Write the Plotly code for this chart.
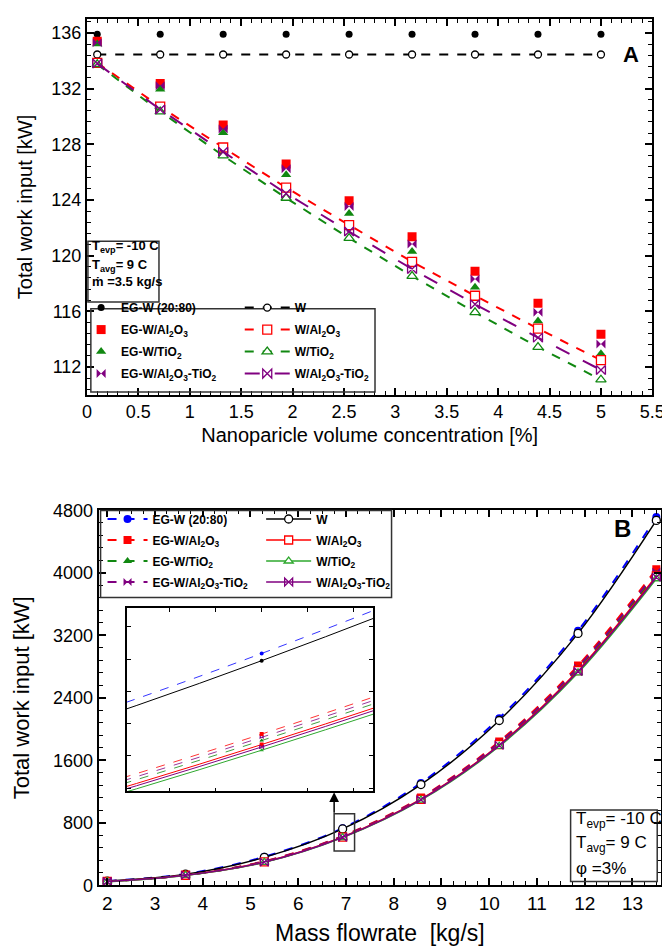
import plotly.graph_objects as go

# ---- panel A : work input vs nanoparticle volume concentration ----
conc = [0.1, 0.7125, 1.325, 1.9375, 2.55, 3.1625, 3.775, 4.3875, 5.0]
a_egw = [135.9, 135.9, 135.9, 135.9, 135.9, 135.9, 135.9, 135.9, 135.9]
a_eg_al = [135.4, 132.37, 129.38, 126.58, 123.95, 121.35, 118.88, 116.58, 114.36]
a_eg_ti = [135.2, 131.95, 128.82, 125.82, 123.02, 120.3, 117.73, 115.3, 112.96]
a_eg_hy = [135.3, 132.21, 129.1, 126.25, 123.53, 120.84, 118.32, 115.93, 113.66]
a_w = [134.45, 134.45, 134.45, 134.45, 134.45, 134.45, 134.45, 134.45, 134.45]
a_w_al = [133.85, 130.7, 127.77, 124.89, 122.2, 119.56, 117.12, 114.76, 112.49]
a_w_ti = [133.75, 130.35, 127.18, 124.14, 121.26, 118.53, 115.93, 113.43, 111.09]
a_w_hy = [133.8, 130.5, 127.46, 124.47, 121.73, 119.04, 116.51, 114.11, 111.79]

# ---- panel B : work input vs mass flowrate ----
flow = [2.0, 3.64, 5.29, 6.93, 8.57, 10.21, 11.86, 13.5]
b_egw = [55, 145, 365, 731, 1310, 2140, 3260, 4715]
b_eg_al = [50, 132, 308, 631, 1125, 1840, 2813, 4047]
b_eg_ti = [49, 130, 302, 623, 1110, 1815, 2770, 3985]
b_eg_hy = [50, 131, 305, 627, 1118, 1828, 2790, 4017]
b_w = [54, 142, 358, 722, 1290, 2110, 3225, 4672]
b_w_al = [49, 129, 299, 618, 1102, 1800, 2750, 3960]
b_w_ti = [48, 127, 294, 611, 1090, 1780, 2720, 3925]
b_w_hy = [48, 128, 297, 615, 1097, 1792, 2738, 3945]

W, H = 670, 948
RED, GREEN, PURPLE, BLUE = "#ff0000", "#118811", "#800080", "#0000ff"
GREEN_B = "#2ea82e"
AL = "Al<sub>2</sub>O<sub>3</sub>"
TI = "TiO<sub>2</sub>"


def px(x):
    return x / W


def py(y):
    return 1 - y / H


fig = go.Figure()

# panel A - EG-W based (markers only)
for name, ys, col, sym, sz in [
    ("EG-W (20:80)", a_egw, "black", "circle", 7),
    ("EG-W/" + AL, a_eg_al, RED, "square", 9),
    ("EG-W/" + TI, a_eg_ti, GREEN, "triangle-up", 9),
    ("EG-W/" + AL + "-" + TI, a_eg_hy, PURPLE, "bowtie", 9),
]:
    fig.add_trace(go.Scatter(x=conc, y=ys, name=name, mode="markers",
                             marker=dict(color=col, symbol=sym, size=sz),
                             legend="legend", legendgroup="a" + name,
                             xaxis="x", yaxis="y"))

# panel A - W based (dashed lines + open markers)
for name, ys, col, sym, sz, dash in [
    ("W", a_w, "black", "circle", 7, "dash"),
    ("W/" + AL, a_w_al, RED, "square", 9, "dash"),
    ("W/" + TI, a_w_ti, GREEN, "triangle-up", 9, "dash"),
    ("W/" + AL + "-" + TI, a_w_hy, PURPLE, "bowtie-open", 9, "longdash"),
]:
    fig.add_trace(go.Scatter(x=conc, y=ys, name=name, mode="lines+markers",
                             line=dict(color=col, width=2, dash=dash),
                             marker=dict(color="white" if sym != "bowtie-open" else col,
                                         symbol=sym, size=sz,
                                         line=dict(color=col, width=1.3)),
                             legend="legend2", legendgroup="aw" + name,
                             xaxis="x", yaxis="y"))

# panel B (main + inset)
eg_b = [
    ("EG-W (20:80)", b_egw, BLUE, "circle"),
    ("EG-W/" + AL, b_eg_al, RED, "square"),
    ("EG-W/" + TI, b_eg_ti, GREEN, "triangle-up"),
    ("EG-W/" + AL + "-" + TI, b_eg_hy, PURPLE, "bowtie"),
]
w_b = [
    ("W", b_w, "black", "circle"),
    ("W/" + AL, b_w_al, RED, "square"),
    ("W/" + TI, b_w_ti, GREEN_B, "triangle-up"),
    ("W/" + AL + "-" + TI, b_w_hy, PURPLE, "bowtie-open"),
]
for name, ys, col, sym in eg_b:
    fig.add_trace(go.Scatter(x=flow, y=ys, name=name, mode="lines+markers",
                             line=dict(color=col, width=2, dash="dash", shape="spline"),
                             marker=dict(color=col, symbol=sym, size=8),
                             legend="legend3", legendgroup="b" + name,
                             xaxis="x2", yaxis="y2"))
for name, ys, col, sym in w_b:
    fig.add_trace(go.Scatter(x=flow, y=ys, name=name, mode="lines+markers",
                             line=dict(color=col, width=1.5, shape="spline"),
                             marker=dict(color="white" if sym != "bowtie-open" else col,
                                         symbol=sym, size=8,
                                         line=dict(color=col, width=1.3)),
                             legend="legend4", legendgroup="bw" + name,
                             xaxis="x2", yaxis="y2"))
for name, ys, col, sym in eg_b + w_b:
    solid = name.startswith("W")
    fig.add_trace(go.Scatter(x=flow, y=ys, mode="lines+markers", showlegend=False,
                             line=dict(color=col, width=0.8 if not solid else 1,
                                       shape="spline",
                                       dash="solid" if solid else "dash"),
                             marker=dict(color=col, symbol=sym, size=4),
                             xaxis="x3", yaxis="y3"))


def frame(**kw):
    d = dict(showline=True, linecolor="black", linewidth=2, mirror="allticks",
             ticks="inside", ticklen=7, tickwidth=1.5, tickcolor="black",
             showgrid=False, zeroline=False,
             tickfont=dict(size=18))
    d.update(kw)
    return d


def minor(step):
    return dict(ticks="inside", ticklen=4, tickwidth=1, tickcolor="black",
                dtick=step, showgrid=False)


fig.update_layout(
    width=W, height=H,
    margin=dict(l=0, r=0, t=0, b=0),
    paper_bgcolor="white", plot_bgcolor="white",
    font=dict(family="Arial, Liberation Sans, sans-serif", color="black", size=18),
    xaxis=frame(domain=[px(76), px(657)], range=[0, 5.5], dtick=0.5, minor=minor(0.1),
                anchor="y",
                title=dict(text="Nanoparicle volume concentration [%]",
                           font=dict(size=20), standoff=7)),
    yaxis=frame(domain=[py(385), py(1)], range=[110, 137], dtick=4, minor=minor(0.8),
                anchor="x",
                title=dict(text="Total work input [kW]", font=dict(size=20), standoff=13)),
    xaxis2=frame(domain=[px(88), px(666)], range=[1.82, 13.6], dtick=1, minor=minor(0.25),
                 anchor="y2", tickfont=dict(size=19),
                 title=dict(text="Mass flowrate&nbsp; [kg/s]", font=dict(size=23),
                            standoff=12)),
    yaxis2=frame(domain=[py(886), py(503)], range=[0, 4800], dtick=800, minor=minor(160),
                 anchor="x2",
                 title=dict(text="Total work input [kW]", font=dict(size=22), standoff=17)),
    xaxis3=dict(domain=[px(117), px(370)], range=[6.711, 7.111], tick0=6.93, dtick=0.075,
                anchor="y3", showline=True, linecolor="black", linewidth=1.5,
                mirror="allticks", ticks="inside", ticklen=4, tickcolor="black",
                showticklabels=False, showgrid=False, zeroline=False),
    yaxis3=dict(domain=[py(790), py(603)], range=[560, 787], tick0=4, dtick=40,
                anchor="x3", showline=True, linecolor="black", linewidth=1.5,
                mirror="allticks", ticks="inside", ticklen=4, tickcolor="black",
                showticklabels=False, showgrid=False, zeroline=False),
)

leg_font = dict(size=12, family="Arial, Liberation Sans, sans-serif", weight="bold")
common_leg = dict(bgcolor="rgba(0,0,0,0)", borderwidth=0, xanchor="left", yanchor="top",
                  font=leg_font)
fig.update_layout(
    legend=dict(x=px(70), y=py(281), itemwidth=30, tracegroupgap=3, **common_leg),
    legend2=dict(x=px(233), y=py(281), itemwidth=45, tracegroupgap=3, **common_leg),
    legend3=dict(x=px(92), y=py(497), itemwidth=40, tracegroupgap=2, **common_leg),
    legend4=dict(x=px(255), y=py(497), itemwidth=45, tracegroupgap=2, **common_leg),
)

box = dict(type="rect", xref="paper", yref="paper", line=dict(color="#333333", width=1.5))
fig.add_shape(x0=px(77), x1=px(150), y0=py(290), y1=py(228), **box)
fig.add_shape(x0=px(80), x1=px(372), y0=py(382), y1=py(297), **box)
fig.add_shape(x0=px(90), x1=px(389), y0=py(592), y1=py(503), **box)
fig.add_shape(x0=px(573), x1=px(662), y0=py(882), y1=py(809), **box)
fig.add_shape(x0=px(330), x1=px(351), y0=py(851), y1=py(813), **box)

ann = dict(xref="paper", yref="paper", showarrow=False, xanchor="left", yanchor="middle")
fig.add_annotation(x=px(79), y=py(233), text="<b>T<sub>evp</sub>= -10 C</b>",
                   font=dict(size=13), **ann)
fig.add_annotation(x=px(79), y=py(253), text="<b>T<sub>avg</sub>= 9 C</b>",
                   font=dict(size=13), **ann)
fig.add_annotation(x=px(79), y=py(269), text="<b>ṁ =3.5 kg/s</b>",
                   font=dict(size=13), **ann)
fig.add_annotation(x=px(576), y=py(819), text="T<sub>evp</sub>= -10 C",
                   font=dict(size=17), **ann)
fig.add_annotation(x=px(576), y=py(844), text="T<sub>avg</sub>= 9 C",
                   font=dict(size=17), **ann)
fig.add_annotation(x=px(576), y=py(869), text="φ =3%", font=dict(size=17), **ann)
fig.add_annotation(x=px(645), y=py(22), text="<b>A</b>", font=dict(size=22),
                   xref="paper", yref="paper", showarrow=False)
fig.add_annotation(x=px(637), y=py(521), text="<b>B</b>", font=dict(size=24),
                   xref="paper", yref="paper", showarrow=False)
# arrow from zoom box to inset
fig.add_annotation(x=px(330), y=py(791), ax=0, ay=22, text="", xref="paper", yref="paper",
                   showarrow=True, arrowhead=2, arrowsize=1.3, arrowwidth=1.5,
                   arrowcolor="black")

fig.write_html("out.html")
